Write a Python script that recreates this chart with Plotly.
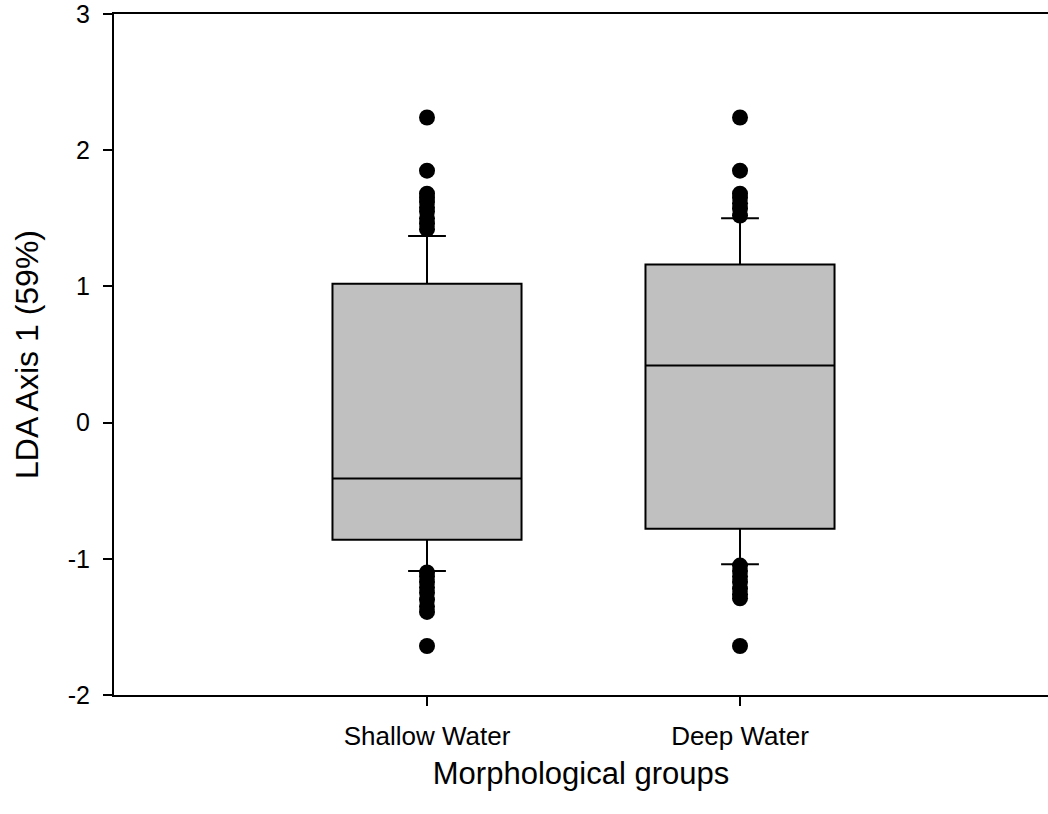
import plotly.graph_objects as go

# Morphological groups and their positions on the x axis
groups = ["Shallow Water", "Deep Water"]
group_pos = [0, 1]

# Box summary statistics (LDA Axis 1 scores)
q1 = [-0.86, -0.78]
median = [-0.41, 0.42]
q3 = [1.02, 1.16]
lower_fence = [-1.09, -1.04]
upper_fence = [1.37, 1.50]

# Outlying scores beyond the whiskers
shallow_outliers = [2.24, 1.85, 1.68, 1.65, 1.62, 1.58, 1.55, 1.50, 1.46, 1.42,
                    -1.10, -1.13, -1.17, -1.21, -1.25, -1.30, -1.35, -1.39, -1.64]
deep_outliers = [2.24, 1.85, 1.68, 1.65, 1.61, 1.57, 1.52,
                 -1.05, -1.09, -1.13, -1.17, -1.22, -1.26, -1.29, -1.64]
outliers = [shallow_outliers, deep_outliers]

y_ticks = [-2, -1, 0, 1, 2, 3]
y_tick_text = ["-2", "-1", "0", "1", "2", "3"]

FONT = "Liberation Sans, Arial, sans-serif"

fig = go.Figure()

for i in range(len(groups)):
    fig.add_trace(go.Box(
        x=[group_pos[i]],
        q1=[q1[i]], median=[median[i]], q3=[q3[i]],
        lowerfence=[lower_fence[i]], upperfence=[upper_fence[i]],
        width=0.604,
        whiskerwidth=0.2,
        fillcolor="#C0C0C0",
        line=dict(color="black", width=2),
        boxpoints=False,
        showlegend=False,
        hoverinfo="skip",
    ))
    fig.add_trace(go.Scatter(
        x=[group_pos[i]] * len(outliers[i]),
        y=outliers[i],
        mode="markers",
        marker=dict(color="black", size=16, line=dict(width=0)),
        showlegend=False,
        hoverinfo="skip",
    ))

fig.update_layout(
    width=1048, height=814,
    margin=dict(l=114, r=0, t=12, b=119),
    paper_bgcolor="white", plot_bgcolor="white",
    font=dict(family=FONT, color="black"),
    xaxis=dict(
        range=[-1.0, 1.984],
        tickvals=group_pos, ticktext=groups,
        ticks="outside", ticklen=9, tickwidth=1.5, tickcolor="black",
        tickfont=dict(size=26, family=FONT),
        ticklabelstandoff=8,
        showline=True, linecolor="black", linewidth=2, mirror=True,
        showgrid=False, zeroline=False,
        title=dict(text="Morphological groups", font=dict(size=31, family=FONT), standoff=12),
    ),
    yaxis=dict(
        range=[-2, 3],
        tickvals=y_ticks, ticktext=y_tick_text,
        ticks="outside", ticklen=9, tickwidth=1.5, tickcolor="black",
        tickfont=dict(size=25, family=FONT),
        ticklabelstandoff=8,
        ticklabeloverflow="allow",
        showline=True, linecolor="black", linewidth=2, mirror=False,
        showgrid=False, zeroline=False,
        title=dict(text="LDA Axis 1 (59%)", font=dict(size=32, family=FONT), standoff=20),
    ),
)

fig.write_html("out.html")
